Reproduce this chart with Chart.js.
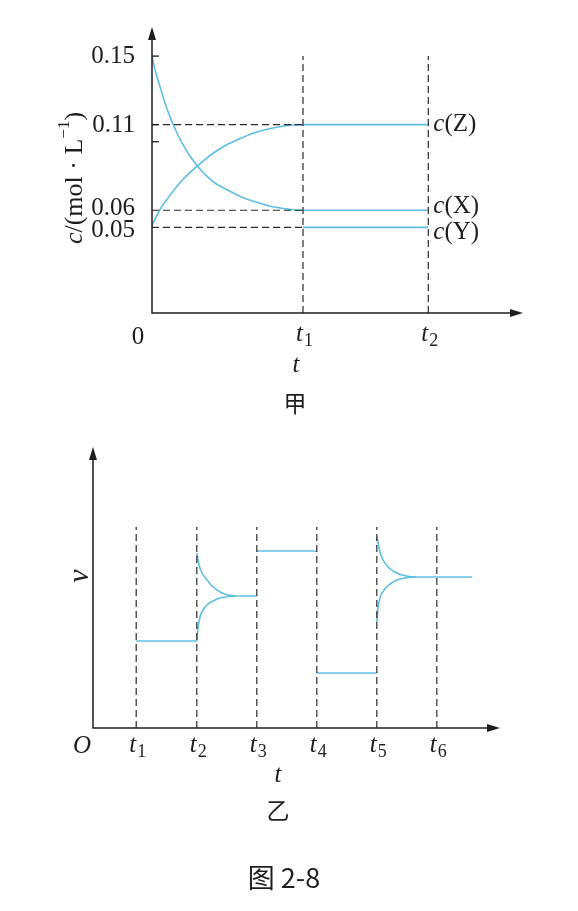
<!DOCTYPE html>
<html>
<head>
<meta charset="utf-8">
<script src="https://cdn.jsdelivr.net/npm/chart.js@4.4.0/dist/chart.umd.min.js"></script>
<style>
  body { margin: 0; background: #fff; }
  #wrap { position: relative; width: 578px; height: 911px; }
  canvas { position: absolute; left: 0; }
  #chartTop { top: 0; }
  #chartBottom { top: 420px; }
</style>
</head>
<body>
<div id="wrap">
  <canvas id="chartTop" width="578" height="420"></canvas>
  <canvas id="chartBottom" width="578" height="491"></canvas>
</div>
<script>
// 甲: c / (mol·L-1) against t
var concTicks = [0.05, 0.06, 0.11, 0.15];
var concTickLabels = ['0.05', '0.06', '0.11', '0.15'];
var concMarks = [0.15, 0.11, 0.10];
var topTimes = [1, 1.83];              // t1, t2
var topTimeSubs = ['1', '2'];
var xTime = [0, 0.02, 0.05, 0.1, 0.2, 0.3, 0.4, 0.5, 0.6, 0.7, 0.8, 0.9, 1, 1.83];
var xConc = [0.15, 0.142, 0.133, 0.119, 0.099, 0.0858, 0.077, 0.0718, 0.0675, 0.0645, 0.062, 0.0607, 0.06, 0.06];
var zTime = [0, 0.05, 0.1, 0.2, 0.3, 0.4, 0.5, 0.6, 0.7, 0.8, 0.9, 1, 1.83];
var zConc = [0.051, 0.06, 0.0665, 0.0775, 0.0858, 0.093, 0.0985, 0.1025, 0.1058, 0.108, 0.1095, 0.11, 0.11];
var yTime = [1, 1.83];
var yConc = [0.05, 0.05];
var guideConc = [0.11, 0.06, 0.05];
var seriesNames = ['Z', 'X', 'Y'];

// 乙: v against t
var rateTimes = [0.72, 1.73, 2.73, 3.73, 4.73, 5.73];   // t1..t6
var rateTimeSubs = ['1', '2', '3', '4', '5', '6'];
var levelStart = [0.72, 2.37, 2.73, 3.73, 5.38];
var levelEnd = [1.73, 2.73, 3.73, 4.73, 6.32];
var levelRate = [8.7, 13.2, 17.7, 5.5, 15.1];
var upper2T = [1.73, 1.767, 1.817, 1.9, 1.983, 2.067, 2.15, 2.25, 2.37];
var upper2V = [17.5, 16.3, 15.5, 14.8, 14.2, 13.8, 13.5, 13.3, 13.2];
var lower2T = [1.73, 1.75, 1.783, 1.833, 1.917, 2.0, 2.117, 2.25, 2.37];
var lower2V = [8.7, 10.0, 11.1, 11.8, 12.4, 12.7, 13.0, 13.15, 13.2];
var upper5T = [4.73, 4.783, 4.833, 4.917, 5.033, 5.15, 5.267, 5.38];
var upper5V = [19.1, 17.6, 16.8, 16.1, 15.6, 15.3, 15.15, 15.1];
var lower5T = [4.73, 4.75, 4.783, 4.85, 4.95, 5.067, 5.2, 5.38];
var lower5V = [10.6, 12.0, 13.0, 13.8, 14.4, 14.8, 15.0, 15.1];

var curveColor = 'rgb(96,190,226)';
var dashColor = '#2a2a2a';
var inkColor = '#1e1e1e';
var serif = '"Liberation Serif", "DejaVu Serif", serif';
var cjk = '"Noto Sans CJK SC", sans-serif';

function pts(xs, ys) {
  return xs.map(function (x, i) { return { x: x, y: ys[i] }; });
}
function blue(data) {
  return { data: data, borderColor: curveColor, borderWidth: 1.6, pointRadius: 0,
           cubicInterpolationMode: 'monotone', fill: false };
}
function dashed(data) {
  return { data: data, borderColor: dashColor, borderWidth: 1.2, borderDash: [7, 4],
           pointRadius: 0, tension: 0, fill: false };
}

function arrowUp(ctx, x, y) {
  ctx.beginPath(); ctx.moveTo(x, y); ctx.lineTo(x - 4, y + 13); ctx.lineTo(x + 4, y + 13); ctx.closePath(); ctx.fill();
}
function arrowRight(ctx, x, y) {
  ctx.beginPath(); ctx.moveTo(x, y); ctx.lineTo(x - 13, y - 4); ctx.lineTo(x - 13, y + 4); ctx.closePath(); ctx.fill();
}
function drawAxes(chart) {
  var a = chart.chartArea, ctx = chart.ctx;
  ctx.save();
  ctx.strokeStyle = inkColor; ctx.fillStyle = inkColor; ctx.lineWidth = 1.5;
  ctx.beginPath();
  ctx.moveTo(a.left, a.top + 10); ctx.lineTo(a.left, a.bottom); ctx.lineTo(a.right - 10, a.bottom);
  ctx.stroke();
  arrowUp(ctx, a.left, a.top);
  arrowRight(ctx, a.right, a.bottom);
  ctx.restore();
}
// italic t with a small subscript, centred on x
function drawSubT(ctx, x, y, sub, size) {
  var subSize = Math.round(size * 0.7);
  ctx.font = 'italic ' + size + 'px ' + serif;
  var w1 = ctx.measureText('t').width;
  ctx.font = subSize + 'px ' + serif;
  var w2 = ctx.measureText(sub).width;
  var left = x - (w1 + w2) / 2;
  ctx.textAlign = 'left'; ctx.textBaseline = 'alphabetic';
  ctx.font = 'italic ' + size + 'px ' + serif;
  ctx.fillText('t', left, y);
  ctx.font = subSize + 'px ' + serif;
  ctx.fillText(sub, left + w1 + 1, y + 5);
}

var topDecor = {
  id: 'topDecor',
  afterDatasetsDraw: function (chart) {
    drawAxes(chart);
    var ctx = chart.ctx, xs = chart.scales.x, ys = chart.scales.y, a = chart.chartArea;
    ctx.save();
    ctx.strokeStyle = inkColor; ctx.fillStyle = inkColor; ctx.lineWidth = 1.3;
    concMarks.forEach(function (c) {
      var py = ys.getPixelForValue(c);
      ctx.beginPath(); ctx.moveTo(a.left, py); ctx.lineTo(a.left + 7, py); ctx.stroke();
    });
    // tick labels on c axis
    var nudge = [3, -2, 1, 0];
    ctx.font = '25px ' + serif; ctx.textAlign = 'right'; ctx.textBaseline = 'middle';
    concTicks.forEach(function (c, i) {
      ctx.fillText(concTickLabels[i], 135, ys.getPixelForValue(c) + nudge[i]);
    });
    // time labels
    ctx.textAlign = 'center'; ctx.textBaseline = 'alphabetic';
    ctx.fillText('0', 138, 344);
    topTimes.forEach(function (t, i) {
      drawSubT(ctx, xs.getPixelForValue(t) + 1, 341, topTimeSubs[i], 25);
    });
    ctx.font = 'italic 25px ' + serif; ctx.textAlign = 'center';
    ctx.fillText('t', 296, 372);
    ctx.font = '23px ' + cjk; ctx.textBaseline = 'middle';
    ctx.fillText('甲', 295, 403);
    // series names c(Z), c(X), c(Y)
    var ends = [zConc[zConc.length - 1], xConc[xConc.length - 1], yConc[yConc.length - 1]];
    var shift = [0, -4, 5];
    ctx.textAlign = 'left';
    seriesNames.forEach(function (n, i) {
      var py = ys.getPixelForValue(ends[i]) + shift[i];
      var px = xs.getPixelForValue(topTimes[1]) + 5;
      ctx.font = 'italic 25px ' + serif;
      ctx.fillText('c', px, py);
      var w = ctx.measureText('c').width;
      ctx.font = '25px ' + serif;
      ctx.fillText('(' + n + ')', px + w, py);
    });
    // rotated axis title c/(mol · L-1)
    ctx.translate(75, 178);
    ctx.rotate(-Math.PI / 2);
    var parts = [['italic 26px ' + serif, 'c', 0], ['26px ' + serif, '/(mol · L', 0],
                 ['17px ' + serif, '−1', -10], ['26px ' + serif, ')', 0]];
    var total = 0;
    parts.forEach(function (p) { ctx.font = p[0]; total += ctx.measureText(p[1]).width; });
    var cx = -total / 2;
    ctx.textAlign = 'left';
    parts.forEach(function (p) {
      ctx.font = p[0]; ctx.fillText(p[1], cx, p[2]); cx += ctx.measureText(p[1]).width;
    });
    ctx.restore();
  }
};

var bottomDecor = {
  id: 'bottomDecor',
  afterDatasetsDraw: function (chart) {
    drawAxes(chart);
    var ctx = chart.ctx, xs = chart.scales.x;
    ctx.save();
    ctx.fillStyle = inkColor;
    ctx.font = 'italic 25px ' + serif; ctx.textAlign = 'center'; ctx.textBaseline = 'alphabetic';
    ctx.fillText('O', 82, 333);
    rateTimes.forEach(function (t, i) {
      drawSubT(ctx, xs.getPixelForValue(t) + 1, 332, rateTimeSubs[i], 25);
    });
    ctx.font = 'italic 25px ' + serif; ctx.textAlign = 'center';
    ctx.fillText('t', 278, 362);
    ctx.font = '23px ' + cjk; ctx.textBaseline = 'middle';
    ctx.fillText('乙', 278, 390);
    ctx.font = '27px ' + cjk;
    ctx.fillText('图 2-8', 284, 458);
    ctx.translate(80, 156);
    ctx.rotate(-Math.PI / 2);
    ctx.font = 'italic 30px ' + serif;
    ctx.fillText('v', 0, 0);
    ctx.restore();
  }
};

function renderTopChart() {
  var vLines = [], hLines = [];
  topTimes.forEach(function (t) { vLines.push({ x: t, y: 0 }, { x: t, y: 0.15 }, { x: t, y: null }); });
  guideConc.forEach(function (c) { hLines.push({ x: 0, y: c }, { x: topTimes[0], y: c }, { x: 0, y: null }); });
  new Chart(document.getElementById('chartTop'), {
    type: 'line',
    data: {
      datasets: [
        dashed(vLines),
        dashed(hLines),
        blue(pts(xTime, xConc)),
        blue(pts(zTime, zConc)),
        blue(pts(yTime, yConc))
      ]
    },
    options: {
      responsive: false,
      animation: false,
      layout: { padding: { left: 152, right: 55, top: 27, bottom: 107 } },
      plugins: { legend: { display: false }, tooltip: { enabled: false } },
      scales: {
        x: { type: 'linear', min: 0, max: 2.457, display: false },
        y: { type: 'linear', min: 0, max: 0.167, display: false }
      }
    },
    plugins: [topDecor]
  });
}

function renderBottomChart() {
  var vLines = [], levels = [];
  rateTimes.forEach(function (t) { vLines.push({ x: t, y: 0 }, { x: t, y: 20.1 }, { x: t, y: null }); });
  levelRate.forEach(function (v, i) {
    levels.push({ x: levelStart[i], y: v }, { x: levelEnd[i], y: v }, { x: levelEnd[i], y: null });
  });
  var levelSet = blue(levels);
  levelSet.cubicInterpolationMode = 'default';
  levelSet.tension = 0;
  new Chart(document.getElementById('chartBottom'), {
    type: 'line',
    data: {
      datasets: [
        dashed(vLines),
        levelSet,
        blue(pts(upper2T, upper2V)),
        blue(pts(lower2T, lower2V)),
        blue(pts(upper5T, upper5V)),
        blue(pts(lower5T, lower5V))
      ]
    },
    options: {
      responsive: false,
      animation: false,
      layout: { padding: { left: 93, right: 78, top: 27, bottom: 183 } },
      plugins: { legend: { display: false }, tooltip: { enabled: false } },
      scales: {
        x: { type: 'linear', min: 0, max: 6.783, display: false },
        y: { type: 'linear', min: 0, max: 28.1, display: false }
      }
    },
    plugins: [bottomDecor]
  });
}

renderTopChart();
renderBottomChart();
</script>
</body>
</html>
